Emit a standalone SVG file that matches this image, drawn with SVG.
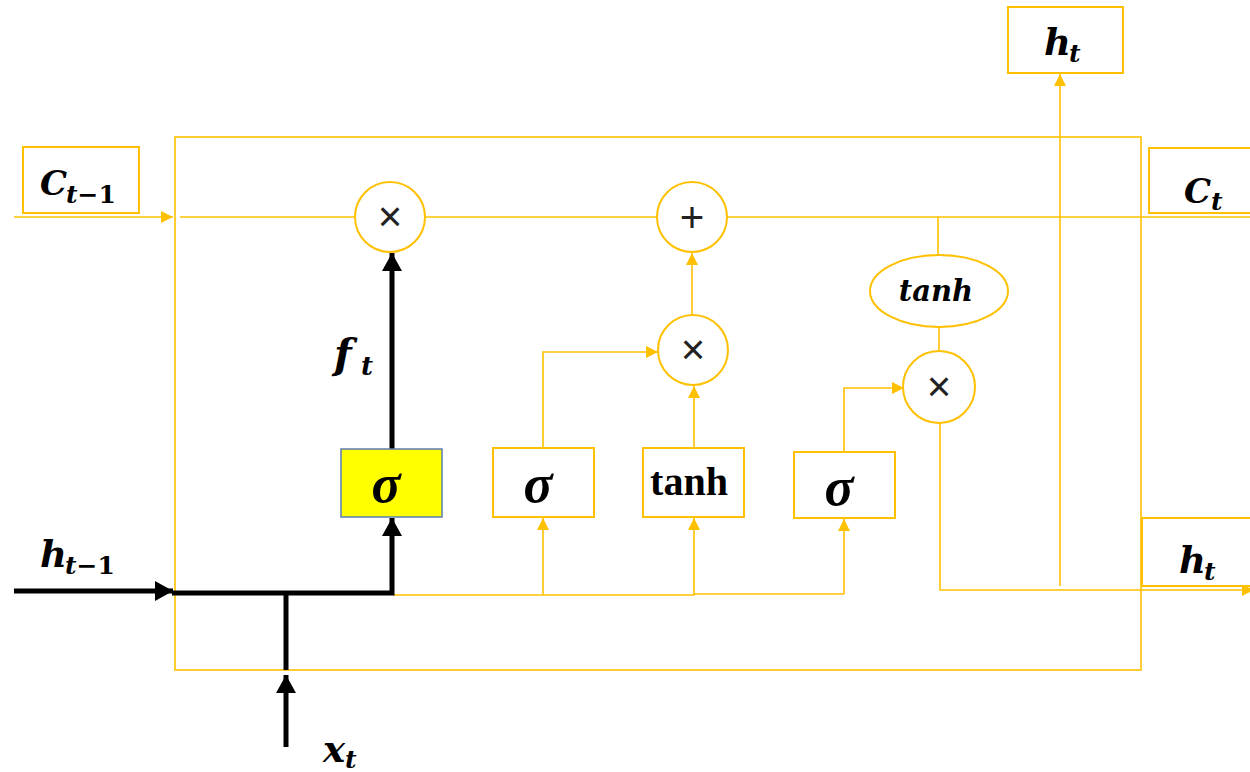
<svg xmlns="http://www.w3.org/2000/svg" width="1250" height="772" viewBox="0 0 1250 772">
<defs>
<style>
.o{fill:none;stroke:#FFC000;stroke-width:1.6}
.ob{fill:#fff;stroke:#FFC000;stroke-width:2}
.k{fill:none;stroke:#000;stroke-width:5}
.m{font-family:"DejaVu Serif","Liberation Serif",serif;font-weight:bold;font-style:italic;fill:#000}
.s{font-family:"Liberation Serif",serif;font-weight:bold;font-style:italic;fill:#000;font-size:54px;text-anchor:middle}
.u{font-style:normal}
.op{font-family:"Liberation Sans",sans-serif;font-size:42px;fill:#222;text-anchor:middle}
</style>
<marker id="ao" viewBox="0 0 12 12" refX="12" refY="6" markerWidth="12" markerHeight="12" markerUnits="userSpaceOnUse" orient="auto"><path d="M0,0 L12,6 L0,12 Z" fill="#FFC000"/></marker>
<marker id="ak" viewBox="0 0 18 20" refX="18" refY="10" markerWidth="18" markerHeight="20" markerUnits="userSpaceOnUse" orient="auto"><path d="M0,0 L18,10 L0,20 Z" fill="#000"/></marker>
</defs>
<rect id="frame" x="175" y="137" width="966" height="533" class="o" stroke-width="2"/>
<g id="connectors">
<path class="o" d="M14 217 H173" marker-end="url(#ao)"/>
<path class="o" d="M180 217 H1250"/>
<path class="o" d="M938 217 V254"/>
<path class="o" d="M939 327 V350"/>
<path class="o" d="M940 423 V590 H1254" marker-end="url(#ao)"/>
<path class="o" d="M1060 586 V74" marker-end="url(#ao)"/>
<path class="o" d="M844 452 V388 H904" marker-end="url(#ao)"/>
<path class="o" d="M694 448 V386" marker-end="url(#ao)"/>
<path class="o" d="M692 316 V253" marker-end="url(#ao)"/>
<path class="o" d="M543 448 V352 H658" marker-end="url(#ao)"/>
<path class="o" d="M393 595 H694 V594 H844"/>
<path class="o" d="M543 595 V518" marker-end="url(#ao)"/>
<path class="o" d="M694 595 V518" marker-end="url(#ao)"/>
<path class="o" d="M844 594 V519" marker-end="url(#ao)"/>
<path class="k" d="M14 591 H173" marker-end="url(#ak)"/>
<path class="k" d="M172 593 H392 V518" marker-end="url(#ak)"/>
<path class="k" d="M286 670 V593"/>
<path class="k" d="M286 747 V675" marker-end="url(#ak)"/>
<path class="k" d="M392 449 V253" marker-end="url(#ak)"/>
</g>
<g id="c_prev">
<rect x="23" y="147" width="116" height="66" class="ob"/>
<text class="m" font-size="34" x="40" y="195">C<tspan font-size="25" x="66" y="203">t<tspan class="u">−1</tspan></tspan></text>
</g>
<g id="h_prev">
<text class="m" font-size="37" x="40" y="567">h<tspan font-size="25" x="65" y="574">t<tspan class="u">−1</tspan></tspan></text>
</g>
<g id="x_t">
<text class="m" font-size="37" x="323" y="762">x<tspan font-size="25" x="345" y="768">t</tspan></text>
</g>
<g id="f_t">
<text class="m" font-size="41" x="334" y="368">f<tspan font-size="26" x="361" y="375">t</tspan></text>
</g>
<g id="mul_forget">
<circle cx="390" cy="217" r="35" class="ob"/>
<text class="op" x="390" y="231">×</text>
</g>
<g id="add">
<circle cx="692" cy="217" r="35" class="ob"/>
<text class="op" x="692" y="232">+</text>
</g>
<g id="mul_input">
<circle cx="693" cy="350" r="35" class="ob"/>
<text class="op" x="693" y="364">×</text>
</g>
<g id="mul_output">
<circle cx="939" cy="387" r="36" class="ob"/>
<text class="op" x="939" y="401">×</text>
</g>
<g id="tanh_cell">
<ellipse cx="939" cy="291" rx="69" ry="36" class="ob"/>
<text class="m" font-size="29" x="936" y="301" text-anchor="middle">tanh</text>
</g>
<g id="forget_gate">
<rect x="341" y="449" width="101" height="68" fill="#FFFF00" stroke="#5B7DB5" stroke-width="1.5"/>
<text class="s" x="386" y="502">σ</text>
</g>
<g id="input_gate">
<rect x="493" y="448" width="101" height="69" class="ob"/>
<text class="s" x="538" y="502">σ</text>
</g>
<g id="candidate">
<rect x="643" y="448" width="101" height="69" class="ob"/>
<text font-family="Liberation Serif, serif" font-weight="bold" font-size="40" x="689" y="495" text-anchor="middle">tanh</text>
</g>
<g id="output_gate">
<rect x="794" y="452" width="101" height="66" class="ob"/>
<text class="s" x="839" y="505">σ</text>
</g>
<g id="h_top">
<rect x="1008" y="7" width="115" height="66" class="ob"/>
<text class="m" font-size="37" x="1044" y="55">h<tspan font-size="25" x="1069" y="62">t</tspan></text>
</g>
<g id="c_next">
<rect x="1149" y="148" width="110" height="65" class="ob"/>
<text class="m" font-size="34" x="1184" y="203">C<tspan font-size="25" x="1211" y="210">t</tspan></text>
</g>
<g id="h_right">
<rect x="1142" y="518" width="120" height="68" class="ob"/>
<text class="m" font-size="37" x="1179" y="573">h<tspan font-size="25" x="1204" y="580">t</tspan></text>
</g>
</svg>
